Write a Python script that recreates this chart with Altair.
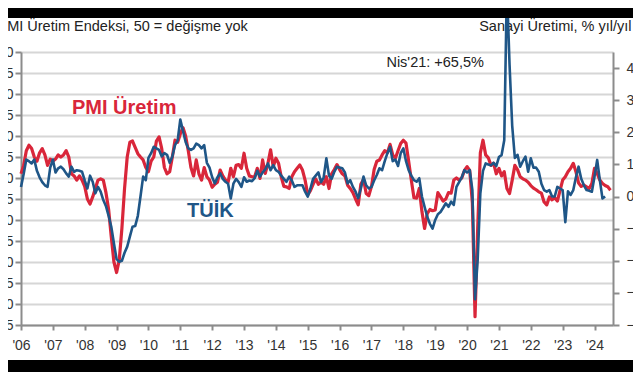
import altair as alt
import pandas as pd

start_year = 2006

# PMI Üretim (output) index, monthly from Jan 2006
pmi_uretim = [
    51, 53, 56.5, 57.8, 57, 55, 54, 56, 57, 55.5, 53, 54.5,            # 2006
    54, 54.5, 55.5, 55, 55.5, 56.5, 55, 51, 50.5, 49.5, 50.5, 49.5,    # 2007
    48, 45, 43.8, 45.5, 47.5, 49.5, 49.8, 49.5, 46.5, 42.5, 36, 30,    # 2008
    27.5, 30.5, 38, 47.5, 55, 58.5, 58.8, 57.3, 55.8, 55, 54.3, 52.5,  # 2009
    51.5, 54, 55, 58.8, 59.8, 57, 52.5, 51, 51.5, 55, 59, 58.5,        # 2010
    60.5, 62, 60, 56.5, 52.5, 50.5, 54.3, 51, 49.5, 52.5, 50.3, 49.5,  # 2011
    47.8, 48.5, 49, 51.9, 50.5, 49.5, 49, 52.3, 50.3, 53, 53.2, 52.3,  # 2012
    55.9, 52.3, 50.5, 50.3, 50.3, 52.3, 49.9, 54.3, 51.1, 53.5, 56.7, 52.7,  # 2013
    54.7, 53.5, 50.3, 48, 47.9, 47.5, 50.3, 51.5, 52.3, 53.1, 51.9, 49.5,    # 2014
    46, 47, 48.5, 49.8, 48.5, 49, 48.5, 50.3, 47.5, 51, 52, 53.2,      # 2015
    52, 51, 50.5, 48.3, 47.5, 46.5, 45, 43.6, 48.5, 49.7, 46.3, 45.8,  # 2016
    48, 52, 54, 54.3, 55.5, 56.5, 56, 58, 55.5, 54.7, 56.5, 58.2,      # 2017
    59, 58.3, 54, 49.5, 45.3, 45.2, 47.5, 42, 38, 41.5, 42.5, 42.2,    # 2018
    42.4, 46.5, 45.5, 44.5, 45, 46.5, 46.4, 49.5, 50, 49.5, 50, 51.8,  # 2019
    52.7, 51.8, 44, 17, 38, 56, 59, 55.5, 54.8, 53, 53.5, 51,          # 2020
    52.3, 50.5, 51.5, 47.5, 46.3, 49.5, 53, 52, 50.3, 49.8, 49.5, 49,  # 2021
    48.2, 47.6, 47.2, 46.7, 46.4, 44.3, 43.6, 45.5, 44.8, 45.3, 44.5, 47,    # 2022
    49.5, 50.3, 51.5, 52.3, 53.5, 51.5, 48.8, 48, 48.3, 47.9, 47.5, 48.7,    # 2023
    52.3, 51.1, 49.5, 48.7, 48.2, 47.9, 47.1,                          # 2024
]

# TÜİK industrial production, % y/y, monthly from Jan 2006
tuik_sanayi = [
    3, 7, 11.5, 11, 10.3, 11.5, 8, 6, 4.5, 3.5, 3, 9,                  # 2006
    11.5, 7.5, 8.8, 9.3, 8.5, 7.2, 6.2, 9.3, 7.7, 8.2, 8, 7.7,         # 2007
    5, 2.5, 6.5, 4.6, 1, 3, 1.5, -1.1, -3, -6, -9.4, -14.6,            # 2008
    -19.5, -20.3, -20, -17.5, -15.6, -12.5, -9.4, -9.2, -6, 0, 6.2, 5.1,  # 2009
    12, 13.5, 15.5, 15, 14.5, 12.5, 13.5, 13, 10.5, 12.5, 16, 17.5,    # 2010
    24, 20.5, 17, 15, 14.5, 15, 16.5, 16, 15, 16, 10.5, 9,             # 2011
    6, 4.1, 6, 7.2, 5.5, 4.6, 4, -0.6, 4, 5.5, 4.5, 3,                 # 2012
    6, 4.6, 5, 4.8, 5.7, 8, 6.2, 7.5, 8.5, 10.3, 8.2, 9.8,             # 2013
    8.2, 7.7, 6.5, 5.5, 4.6, 6.2, 5, 3, 3.5, 3.5, 3.5, 1.5,            # 2014
    0, 2.5, 5.5, 6.5, 7.5, 4.5, 6, 11.9, 6.5, 5.5, 7.7, 9.3,           # 2015
    9, 8.8, 7.5, 4.1, 5.1, 3, 1.5, -0.5, 2.5, 6.2, 3.5, 2.5,           # 2016
    3, 5, 6.7, 8.8, 8.2, 11, 13.5, 15.5, 11, 11.5, 9.5, 13.5,          # 2017
    15, 11, 8.2, 6.5, 5.1, 4.6, 5.7, 0, -3.2, -6.3, -8.5, -10,         # 2018
    -7.3, -5.5, -4.8, -3.5, -2.1, -3.2, -1.6, -2.6, 3, 4.5, 6, 8.2,    # 2019
    7.5, 8.2, 2, -32, -19.5, 1, 8, 10.3, 10, 9.7, 10.5, 9.5,           # 2020
    12.3, 12.9, 17.5, 65.5, 41, 22, 12, 13, 9.3, 11, 12.4, 7.7,        # 2021
    11.9, 9, 9, 7.7, 4, 2, 1.5, 2, 0, 0, 3, 2.5,                       # 2022
    2, -8, 1.6, 0.5, 2, 6, 9.3, 5.5, 3.5, 2, 1.8, 1.5,                 # 2023
    6.2, 11.4, 5.1, -0.6, 0,                                           # 2024
]

year_ticks = list(range(2006, 2025))
pmi_ticks = list(range(15, 81, 5))
ip_ticks = list(range(-40, 41, 10))

pmi_df = pd.DataFrame({"t": [start_year + i / 12 for i in range(len(pmi_uretim))],
                       "pmi": pmi_uretim})
ip_df = pd.DataFrame({"t": [start_year + i / 12 for i in range(len(tuik_sanayi))],
                      "ip": tuik_sanayi})

pmi_label_df = pd.DataFrame({"t": [2007.6], "pmi": [66.7], "txt": ["PMI Üretim"]})
tuik_label_df = pd.DataFrame({"t": [2011.21], "pmi": [42.1], "txt": ["TÜİK"]})
note_df = pd.DataFrame({"t": [2021.25], "ip": [41.6], "txt": ["Nis'21: +65,5%"]})

RED = "#D9263A"
BLUE = "#1F5687"
AX = "#8c8c8c"
FONT = "Liberation Sans"
W, H = 592, 273
PAD_L, PAD_T, PAD_R, PAD_B = 13, 44, 20, 47

x_enc = alt.X(
    "t:Q",
    scale=alt.Scale(domain=[2006, 2024.58], nice=False, zero=False),
    axis=alt.Axis(values=year_ticks, labelExpr="\"'\" + substring(toString(datum.value), 2, 4)",
                  title=None, grid=False, domainColor=AX, domainWidth=2, tickColor=AX,
                  tickWidth=2, tickSize=5, labelFlush=False, labelFontSize=14,
                  labelColor="#333333", labelPadding=8, labelFont=FONT),
)

y_left = alt.Y(
    "pmi:Q",
    scale=alt.Scale(domain=[15, 80], nice=False, zero=False),
    axis=alt.Axis(values=pmi_ticks, orient="left", grid=True, gridColor="#d6d6d6", gridWidth=2,
                  domainColor=AX, domainWidth=2, tickColor=AX, tickWidth=2, tickSize=6,
                  labelPadding=2, labelFontSize=14, labelColor="#333333", labelFont=FONT,
                  title="PMI Üretim Endeksi, 50 = değişme yok", titleAngle=0, titleAlign="left",
                  titleBaseline="middle", titleX=-24, titleY=-26, titleFontSize=14.5,
                  titleFontWeight="normal", titleColor="#222222", titleFont=FONT),
)

y_right = alt.Y(
    "ip:Q",
    scale=alt.Scale(domain=[-40, 45], nice=False, zero=False),
    axis=alt.Axis(values=ip_ticks, orient="right", grid=False,
                  domainColor=AX, domainWidth=2, tickColor=AX, tickWidth=2, tickSize=6,
                  labelPadding=7, labelFontSize=14, labelColor="#333333", labelFont=FONT,
                  title="Sanayi Üretimi, % yıl/yıl", titleAngle=0, titleAlign="right",
                  titleBaseline="middle", titleX=18, titleY=-26, titleFontSize=14.5,
                  titleFontWeight="normal", titleColor="#222222", titleFont=FONT),
)

red_line = alt.Chart(pmi_df).mark_line(color=RED, strokeWidth=3.2, strokeJoin="round").encode(
    x=x_enc, y=y_left)
pmi_label = alt.Chart(pmi_label_df).mark_text(
    color=RED, fontSize=20, fontWeight="bold", font=FONT, align="left", baseline="middle"
).encode(x=x_enc, y=y_left, text="txt:N")
tuik_label = alt.Chart(tuik_label_df).mark_text(
    color=BLUE, fontSize=20, fontWeight="bold", font=FONT, align="left", baseline="middle"
).encode(x=x_enc, y=y_left, text="txt:N")
left_group = alt.layer(red_line, pmi_label, tuik_label)

blue_line = alt.Chart(ip_df).mark_line(color=BLUE, strokeWidth=2.6, strokeJoin="round").encode(
    x=x_enc, y=y_right)
note = alt.Chart(note_df).mark_text(
    color="#222222", fontSize=14.5, font=FONT, align="right", baseline="middle", dx=-23
).encode(x=x_enc, y=y_right, text="txt:N")
right_group = alt.layer(blue_line, note)

bar_df = pd.DataFrame({"b": [0]})
top_bar = alt.Chart(bar_df).mark_rect(color="black").encode(
    x=alt.value(-PAD_L), x2=alt.value(W + PAD_R), y=alt.value(-PAD_T), y2=alt.value(-PAD_T + 10))
bottom_bar = alt.Chart(bar_df).mark_rect(color="black").encode(
    x=alt.value(-PAD_L), x2=alt.value(W + PAD_R), y=alt.value(H + 35), y2=alt.value(H + PAD_B))

chart = alt.layer(left_group, right_group, top_bar, bottom_bar).resolve_scale(
    y="independent"
).properties(
    width=W, height=H,
    autosize=alt.AutoSizeParams(type="none"),
    padding={"left": PAD_L, "top": PAD_T, "right": PAD_R, "bottom": PAD_B},
).configure_view(stroke=None)

chart.save("out.html", embed_options={"renderer": "svg", "actions": False})
